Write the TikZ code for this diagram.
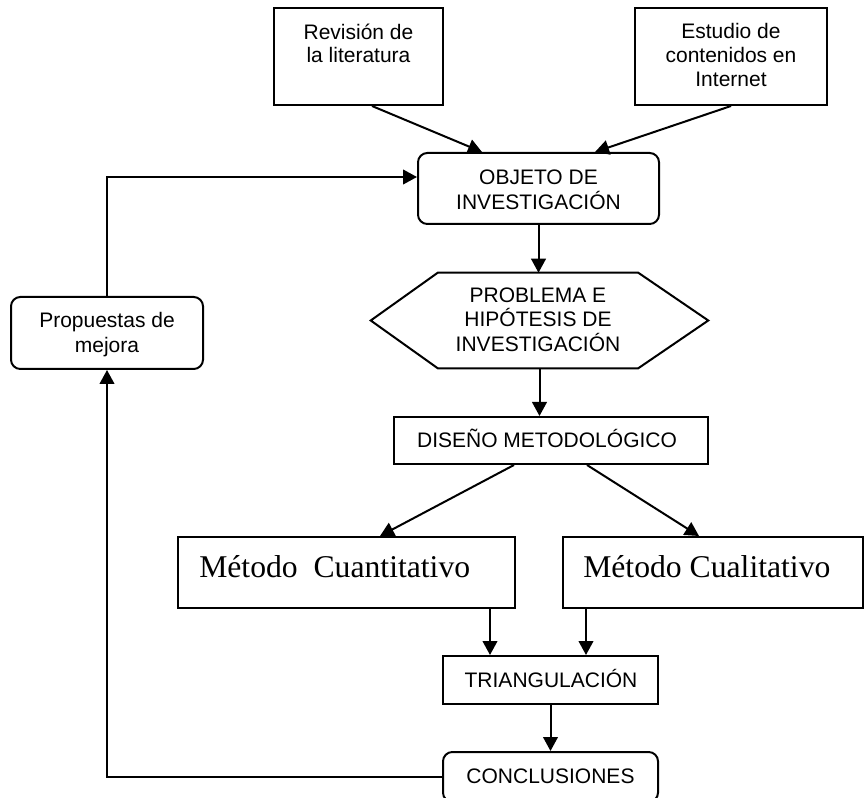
\documentclass[tikz,border=0pt]{standalone}
\usepackage{fontspec}
\setmainfont{Liberation Sans}
\newfontfamily\tnr{Liberation Serif}
\usetikzlibrary{arrows.meta,calc}
\begin{document}
\begin{tikzpicture}[x=0.75pt,y=-0.75pt,
  font=\fontsize{15.75pt}{18pt}\selectfont,
  ln/.style={line width=1.5pt},
  arr/.style={ln,-{Triangle[length=10.5pt,width=11pt]}},
  box/.style={draw,ln,inner sep=0pt},
  rbox/.style={box,rounded corners=7pt},
  txt/.style={anchor=base,inner sep=0pt},
  serif/.style={anchor=base west,inner sep=0pt,font=\tnr\fontsize{23.75pt}{28pt}\selectfont}]
\useasboundingbox (0,0) rectangle (864,798);
\clip (0,0) rectangle (864,798);
% boxes
\node[box,minimum width=169*0.75pt,minimum height=97*0.75pt] (rev) at (358.5,56.5) {};
\node[box,minimum width=192*0.75pt,minimum height=97*0.75pt] (est) at (731,56.5) {};
\node[rbox,minimum width=241*0.75pt,minimum height=71*0.75pt] (obj) at (538.5,188.5) {};
\node[inner sep=0pt,minimum width=337*0.75pt,minimum height=95*0.75pt] (hex) at (539.5,320.5) {};
\draw[ln] (hex.west) -- ($(hex.north west)+(67,0)$) -- ($(hex.north east)+(-70,0)$) -- (hex.east)
  -- ($(hex.south east)+(-70,0)$) -- ($(hex.south west)+(67,0)$) -- cycle;
\node[box,minimum width=314*0.75pt,minimum height=47*0.75pt] (dis) at (551,440.5) {};
\node[rbox,minimum width=192*0.75pt,minimum height=72*0.75pt] (prop) at (107,333) {};
\node[box,minimum width=337*0.75pt,minimum height=71*0.75pt] (cuant) at (346.5,572.5) {};
\node[box,minimum width=300*0.75pt,minimum height=71*0.75pt] (cual) at (713,572.5) {};
\node[box,minimum width=215*0.75pt,minimum height=48*0.75pt] (tri) at (550.5,680) {};
\node[rbox,minimum width=215*0.75pt,minimum height=50*0.75pt] (concl) at (550.5,777) {};
% texts
\node[txt] (rev1) at (358.5,40) {Revisión de};
\node[txt] (rev2) at (358.5,63) {la literatura};
\node[txt] (est1) at (731,39) {Estudio de};
\node[txt] (est2) at (731,63) {contenidos en};
\node[txt] (est3) at (731,87) {Internet};
\node[txt] (obj1) at (538.5,185) {OBJETO DE};
\node[txt] (obj2) at (538.5,210) {INVESTIGACIÓN};
\node[txt] (hex1) at (538,303) {PROBLEMA E};
\node[txt] (hex2) at (538,327) {HIPÓTESIS DE};
\node[txt] (hex3) at (538,352) {INVESTIGACIÓN};
\node[txt] (dis1) at (547,447) {DISEÑO METODOLÓGICO};
\node[txt] (prop1) at (107,328) {Propuestas de};
\node[txt] (prop2) at (107,353) {mejora};
\node[serif] (cuant1) at (199,577) {Método\ \ Cuantitativo};
\node[serif] (cual1) at (583,577) {Método Cualitativo};
\node[txt] (tri1) at (551,687) {TRIANGULACIÓN};
\node[txt] (concl1) at (550.5,783) {CONCLUSIONES};
% connectors
\draw[arr] ($(rev.south)+(13.5,0)$) -- ($(obj.north)+(-56.5,0)$);
\draw[arr] (est.south) -- ($(obj.north)+(56.5,0)$);
\coordinate (o1) at ($(obj.north west)+(0,25)$);
\draw[arr] (prop.north) |- (o1);
\draw[arr] (obj.south) -- (obj.south |- hex.north);
\draw[arr] (hex.south) -- (hex.south |- dis.north);
\draw[arr] ($(dis.south)+(-37,0)$) -- ($(cuant.north)+(33.5,0)$);
\draw[arr] ($(dis.south)+(36,0)$) -- ($(cual.north)+(-14,0)$);
\coordinate (t1) at ($(tri.north west)+(48,0)$);
\coordinate (t2) at ($(tri.north west)+(144,0)$);
\draw[arr] (t1 |- cuant.south) -- (t1);
\draw[arr] (t2 |- cual.south) -- (t2);
\draw[arr] (tri.south) -- (concl.north);
\draw[arr] (concl.west) -| (prop.south);
\end{tikzpicture}
\end{document}
